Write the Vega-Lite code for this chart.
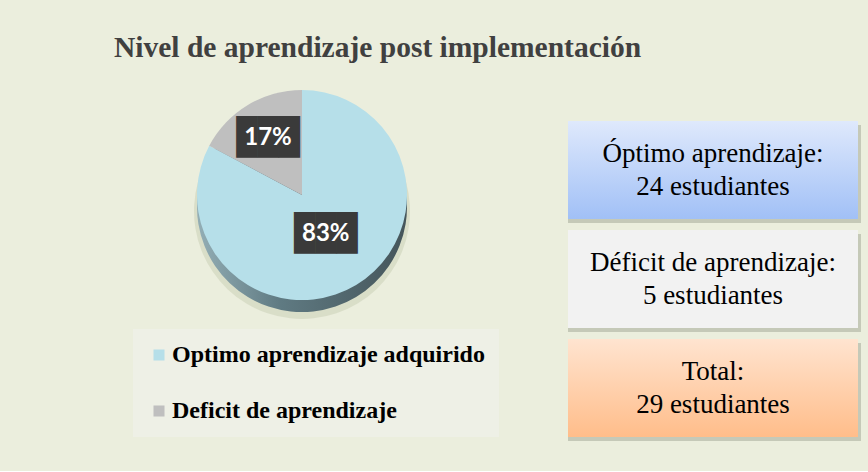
{
  "$schema": "https://vega.github.io/schema/vega-lite/v6.json",
  "background": "#EBEEDD",
  "padding": {"left": 114, "top": 32, "right": 8, "bottom": 30},
  "bounds": "flush",
  "spacing": 116,
  "title": {
    "text": "Nivel de aprendizaje post implementación",
    "anchor": "start",
    "font": "Liberation Serif",
    "fontSize": 29.5,
    "fontWeight": "bold",
    "color": "#404040",
    "offset": 27,
    "dx": -19
  },
  "config": {"view": {"stroke": null}},
  "hconcat": [
    {
      "width": 300,
      "height": 148,
      "data": {
        "values": [
          {"categoria": "Optimo aprendizaje adquirido", "n": 24, "porcentaje": "83%"},
          {"categoria": "Deficit de aprendizaje", "n": 5, "porcentaje": "17%"}
        ]
      },
      "encoding": {
        "theta": {"field": "n", "type": "quantitative", "stack": true},
        "order": {"field": "n", "sort": "descending"}
      },
      "layer": [
        {"mark": {"type": "arc", "outerRadius": 108, "yOffset": 16, "color": "#D5D9C3", "opacity": 0.8}},
        {
          "mark": {
            "type": "arc",
            "outerRadius": 105,
            "yOffset": 12,
            "color": {
              "gradient": "linear", "x1": 0, "y1": 0, "x2": 1, "y2": 0,
              "stops": [
                {"offset": 0, "color": "#93AEB5"},
                {"offset": 0.4, "color": "#5F7A82"},
                {"offset": 1, "color": "#45555A"}
              ]
            }
          }
        },
        {
          "mark": {"type": "arc", "outerRadius": 105},
          "encoding": {
            "color": {
              "field": "categoria",
              "type": "nominal",
              "scale": {
                "domain": ["Optimo aprendizaje adquirido", "Deficit de aprendizaje"],
                "range": ["#B6DFE9", "#BFBFBF"]
              },
              "legend": {
                "orient": "none",
                "legendX": -19,
                "legendY": 208,
                "title": null,
                "symbolType": "square",
                "symbolSize": 121,
                "symbolStrokeWidth": 0,
                "labelFont": "Liberation Serif",
                "labelFontSize": 24,
                "labelFontWeight": "bold",
                "labelColor": "#000000",
                "labelLimit": 400,
                "labelOffset": 1,
                "rowPadding": 32,
                "padding": 14,
                "fillColor": "#EEF0E6"
              }
            }
          }
        },
        {
          "mark": {"type": "text", "font": "DejaVu Sans Mono", "fontSize": 35, "color": "#3A3A3A", "radius": 66, "baseline": "middle", "align": "center"},
          "encoding": {
            "text": {"value": "███"},
            "opacity": {"condition": {"test": "datum.n == 5", "value": 1}, "value": 0}
          }
        },
        {
          "mark": {"type": "text", "font": "DejaVu Sans Mono", "fontSize": 35, "color": "#3A3A3A", "radius": 46, "baseline": "middle", "align": "center"},
          "encoding": {
            "text": {"value": "███"},
            "opacity": {"condition": {"test": "datum.n == 24", "value": 1}, "value": 0}
          }
        },
        {
          "mark": {"type": "text", "font": "Lato", "fontSize": 24, "fontWeight": "bold", "color": "#FFFFFF", "radius": 66, "baseline": "middle", "align": "center"},
          "encoding": {
            "text": {"field": "porcentaje"},
            "opacity": {"condition": {"test": "datum.n == 5", "value": 1}, "value": 0}
          }
        },
        {
          "mark": {"type": "text", "font": "Lato", "fontSize": 24, "fontWeight": "bold", "color": "#FFFFFF", "radius": 46, "baseline": "middle", "align": "center"},
          "encoding": {
            "text": {"field": "porcentaje"},
            "opacity": {"condition": {"test": "datum.n == 24", "value": 1}, "value": 0}
          }
        }
      ]
    },
    {
      "width": 290,
      "height": 316,
      "data": {
        "values": [
          {"caja": "optimo", "texto": ["Óptimo aprendizaje:", "24 estudiantes"]},
          {"caja": "deficit", "texto": ["Déficit de aprendizaje:", "5 estudiantes"]},
          {"caja": "total", "texto": ["Total:", "29 estudiantes"]}
        ]
      },
      "encoding": {
        "y": {
          "field": "caja",
          "type": "nominal",
          "axis": null,
          "scale": {"domain": ["optimo", "deficit", "total"], "paddingInner": 0.1, "paddingOuter": 0}
        }
      },
      "layer": [
        {"mark": {"type": "bar", "color": "#7F8374", "opacity": 0.35, "xOffset": 3, "yOffset": 4}},
        {
          "transform": [{"filter": "datum.caja == 'optimo'"}],
          "mark": {
            "type": "bar",
            "color": {
              "gradient": "linear", "x1": 0, "y1": 0, "x2": 0, "y2": 1,
              "stops": [{"offset": 0, "color": "#DFE9FC"}, {"offset": 1, "color": "#A1C0F6"}]
            }
          }
        },
        {
          "transform": [{"filter": "datum.caja == 'deficit'"}],
          "mark": {"type": "bar", "color": "#F2F2F2"}
        },
        {
          "transform": [{"filter": "datum.caja == 'total'"}],
          "mark": {
            "type": "bar",
            "color": {
              "gradient": "linear", "x1": 0, "y1": 0, "x2": 0, "y2": 1,
              "stops": [{"offset": 0, "color": "#FFE4D0"}, {"offset": 1, "color": "#FFBD8A"}]
            }
          }
        },
        {
          "mark": {"type": "text", "font": "Liberation Serif", "fontSize": 27, "lineHeight": 33, "color": "#000000", "baseline": "middle", "align": "center", "dy": -16},
          "encoding": {"text": {"field": "texto"}}
        }
      ]
    }
  ]
}
